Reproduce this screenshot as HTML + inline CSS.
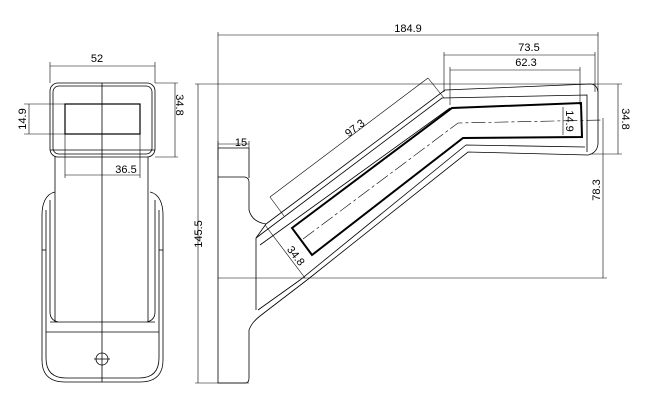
<!DOCTYPE html>
<html><head><meta charset="utf-8"><style>
html,body{margin:0;padding:0;background:#fff;}
svg{display:block;}
text{font-family:"Liberation Sans",sans-serif;font-size:11px;fill:#000;}
</style></head><body>
<svg width="656" height="405" viewBox="0 0 656 405" xmlns="http://www.w3.org/2000/svg">
<g fill="none" stroke="#000" stroke-width="0.8">
<!-- LEFT VIEW -->
<path d="M55 192 C45 194 42 205 42 215 L42 360 Q42 382 65 382 L140 382 Q163 382 163 360 L163 215 C163 205 160 194 150 192"/>
<path d="M46 210 L46 358 Q46 378 66 378 L139 378 Q159 378 159 358 L159 210"/>
<path d="M50 200 L50 312 Q50 320 58 322 M155 200 L155 312 Q155 320 147 322"/>
<rect x="50" y="83" width="105" height="74" rx="8"/>
<rect x="53" y="86" width="99" height="68" rx="6"/>
<line x1="50" y1="150" x2="155" y2="150"/>
<line x1="55" y1="157" x2="55" y2="322"/><line x1="148" y1="157" x2="148" y2="322"/>
<line x1="50" y1="322" x2="155" y2="322"/><line x1="46" y1="332" x2="159" y2="332"/>
<rect x="65" y="104" width="75" height="30" stroke-width="1.2"/>
<line x1="102" y1="83" x2="102" y2="382"/>
<circle cx="102" cy="359" r="6"/><line x1="94" y1="359" x2="110" y2="359"/>
<line x1="42" y1="250" x2="46" y2="250"/><line x1="159" y1="250" x2="163" y2="250"/>
<g stroke-width="0.6">
<line x1="50" y1="62" x2="50" y2="83"/><line x1="155" y1="62" x2="155" y2="83"/>
<line x1="50" y1="66" x2="155" y2="66"/>
<line x1="24" y1="104" x2="65" y2="104"/><line x1="24" y1="134" x2="65" y2="134"/>
<line x1="29" y1="104" x2="29" y2="134"/>
<line x1="155" y1="83" x2="178" y2="83"/><line x1="155" y1="157" x2="178" y2="157"/>
<line x1="175" y1="83" x2="175" y2="157"/>
<line x1="65" y1="134" x2="65" y2="178"/><line x1="140" y1="134" x2="140" y2="178"/>
<line x1="65" y1="175" x2="140" y2="175"/>
</g>
<!-- SIDE VIEW -->
<path d="M218 148 L249 148 L249 178"/>
<path d="M218 148 L218 383 L245 383 Q249 383 249 378 L249 330 Q252 322 260 316 L307 280"/>
<path d="M218 177 L245 177 Q249 178 249 182 L249 210 Q252 222 266 224"/>
<path d="M266 224 L445 90 L590 84 Q597 84 598 92 L598 144 Q597 153 588 155 L468 152 L307 280"/>
<path d="M256 238 L442 98 L587 95 L587 152"/>
<path d="M260 245 L450 108"/>
<path d="M256 238 L256 310"/>
<path d="M266 224 L256 238"/>
<path d="M258 310 L300 280 L466 145 L585 147"/>
<path d="M292 228 L452 108 L581 103 L582 137 L463 138 L312 255 Z" stroke-width="2"/>
<path d="M303 239 L458 123 L603 120" stroke-dasharray="14 3 3 3" stroke-width="0.6"/>
<g stroke-width="0.6">
<line x1="218" y1="32" x2="218" y2="160"/>
<line x1="598" y1="32" x2="598" y2="92"/>
<line x1="218" y1="35" x2="598" y2="35"/>
<line x1="444" y1="52" x2="444" y2="92"/><line x1="595" y1="52" x2="595" y2="92"/>
<line x1="444" y1="55" x2="595" y2="55"/>
<line x1="450" y1="67" x2="450" y2="105"/><line x1="580" y1="67" x2="580" y2="105"/>
<line x1="450" y1="70" x2="580" y2="70"/>
<line x1="195" y1="84" x2="622" y2="84"/>
<line x1="195" y1="383" x2="249" y2="383"/>
<line x1="198" y1="84" x2="198" y2="383"/>
<line x1="218" y1="141" x2="218" y2="148"/><line x1="249" y1="141" x2="249" y2="148"/>
<line x1="218" y1="144" x2="249" y2="144"/>
<line x1="590" y1="154" x2="622" y2="154"/>
<line x1="618" y1="84" x2="618" y2="154"/>
<line x1="218" y1="278" x2="607" y2="278"/>
<line x1="603" y1="118" x2="603" y2="278"/>
<line x1="563" y1="107" x2="563" y2="135"/>
<line x1="270" y1="197" x2="428" y2="78"/>
<line x1="270" y1="197" x2="284" y2="216"/><line x1="428" y1="78" x2="444" y2="98"/>
<line x1="265" y1="225" x2="305" y2="278"/>
</g>
</g>
<text x="97" y="62" text-anchor="middle">52</text>
<text x="126" y="173" text-anchor="middle">36.5</text>
<text transform="translate(26,119) rotate(-90)" text-anchor="middle">14.9</text>
<text transform="translate(176,105) rotate(90)" text-anchor="middle">34.8</text>
<text x="408" y="32" text-anchor="middle">184.9</text>
<text x="529" y="51" text-anchor="middle">73.5</text>
<text x="526" y="66" text-anchor="middle">62.3</text>
<text x="241" y="146" text-anchor="middle">15</text>
<text transform="translate(202,234) rotate(-90)" text-anchor="middle">145.5</text>
<text transform="translate(622,119) rotate(90)" text-anchor="middle">34.8</text>
<text transform="translate(600,190) rotate(-90)" text-anchor="middle">78.3</text>
<text transform="translate(566,121) rotate(90)" text-anchor="middle">14.9</text>
<text transform="translate(357,131) rotate(-37)" text-anchor="middle">97.3</text>
<text transform="translate(293,258) rotate(53)" text-anchor="middle">34.8</text>
</svg>
</body></html>
